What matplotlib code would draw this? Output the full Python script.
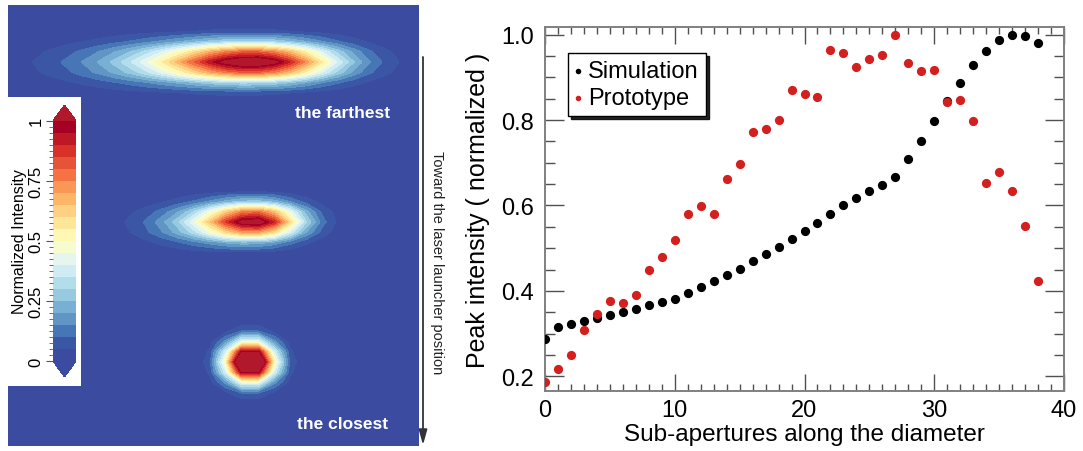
import numpy as np
import matplotlib
matplotlib.use("Agg")
import matplotlib.pyplot as plt
from matplotlib.colors import ListedColormap
from matplotlib.patches import Rectangle
from matplotlib.ticker import MultipleLocator, FixedLocator, FormatStrFormatter

plt.rcParams['font.family'] = ['Liberation Sans', 'DejaVu Sans']

# ---- peak intensity per sub-aperture ----
sub_apertures = list(range(39))
simulation = [0.287, 0.316, 0.323, 0.330, 0.337, 0.344, 0.350, 0.358, 0.366, 0.373,
              0.381, 0.394, 0.409, 0.423, 0.437, 0.452, 0.470, 0.486, 0.503, 0.522,
              0.541, 0.560, 0.580, 0.600, 0.618, 0.635, 0.649, 0.666, 0.708, 0.752,
              0.798, 0.844, 0.888, 0.928, 0.962, 0.987, 1.000, 0.998, 0.981]
prototype = [0.186, 0.216, 0.250, 0.309, 0.346, 0.377, 0.371, 0.391, 0.450, 0.480,
             0.520, 0.581, 0.598, 0.580, 0.662, 0.697, 0.773, 0.780, 0.801, 0.871,
             0.860, 0.855, 0.963, 0.958, 0.924, 0.944, 0.952, 0.999, 0.934, 0.915,
             0.918, 0.842, 0.846, 0.797, 0.652, 0.678, 0.635, 0.551, 0.423]

# ---- spot images: Gaussian components (cx, cy, sigma_left, sigma_right, sigma_y, amp) ----
spot_farthest = [(250, 57, 62, 57, 12.5, 1.0), (150, 58, 70, 70, 14.0, 0.24)]
spot_middle = [(250, 216, 36, 31, 11.5, 0.92), (200, 219, 45, 45, 13.0, 0.26)]
spot_closest = [(242, 357, 16.5, 16.5, 13.5, 1.45)]
spot_labels = ["the farthest", "the closest"]
cbar_ticks = [0, 0.25, 0.5, 0.75, 1]
cbar_ticklabels = ["0", "0.25", "0.5", "0.75", "1"]

W, H = 1083, 452
fig = plt.figure(figsize=(W / 100, H / 100), dpi=100)


def fx(px):
    return px / W


def fy(py):
    return 1 - py / H


# ---- left panel: intensity contours on a coarse sampling grid ----
axL = fig.add_axes([fx(8), fy(447), fx(411), 441 / H])
gx = np.arange(-6, 432, 16.0)
gy = np.arange(-3, 452, 10.0)
X, Y = np.meshgrid(gx, gy)
Z = np.zeros_like(X)
for comp_list in (spot_farthest, spot_middle, spot_closest):
    for cx, cy, sl, sr, sy, amp in comp_list:
        sx = np.where(X < cx, sl, sr)
        Z += amp * np.exp(-0.5 * ((X - cx) / sx) ** 2 - 0.5 * ((Y - cy) / sy) ** 2)

levels = np.linspace(0, 1, 21)
band_colors = plt.cm.RdYlBu_r(np.linspace(0, 1, 20))
band_colors[0] = matplotlib.colors.to_rgba('#3a4ba0')
cmap = ListedColormap(band_colors)
cmap.set_under(band_colors[0])
cmap.set_over('#b2182b')
cf = axL.contourf(X, Y, Z, levels=levels, cmap=cmap, extend='both')
cf.set_edgecolor('face')
cf.set_linewidth(0.6)
axL.set_xlim(0, 411)
axL.set_ylim(441, 0)
axL.set_xticks([])
axL.set_yticks([])
for s in axL.spines.values():
    s.set_visible(False)

axL.text(335, 107, spot_labels[0], color='white', fontsize=12.5, fontweight='bold',
         ha='center', va='center')
axL.text(335, 419, spot_labels[1], color='white', fontsize=12.5, fontweight='bold',
         ha='center', va='center')
axL.add_patch(Rectangle((0, 92), 73, 289, facecolor='white', edgecolor='none', zorder=5))

# colorbar inside the white box (axes height includes the end triangles)
cax = fig.add_axes([fx(53), fy(378), fx(23), 272 / H])
cb = fig.colorbar(cf, cax=cax, extend='both', extendfrac=0.065, ticks=cbar_ticks)
cb.outline.set_visible(False)
cax.yaxis.set_ticks_position('left')
cax.yaxis.set_label_position('left')
cax.set_yticklabels(cbar_ticklabels, fontsize=12, rotation=90, va='center')
cax.yaxis.set_minor_locator(MultipleLocator(0.025))
cax.tick_params(which='major', length=5, width=0.8, color='#555555', pad=2)
cax.tick_params(which='minor', length=3, width=0.6, color='#555555')
cb.set_label('Normalized Intensity', fontsize=11.5, labelpad=1)

# ---- right panel: peak intensity scatter ----
axR = fig.add_axes([fx(545), fy(392), fx(519), 364 / H])
axR.scatter(sub_apertures, simulation, s=44, color='black', linewidths=0,
            label='Simulation', zorder=3)
axR.scatter(sub_apertures, prototype, s=44, color='#d41f1f', linewidths=0,
            label='Prototype', zorder=4)
axR.set_xlim(0, 40)
axR.set_ylim(0.1655, 1.018)
axR.xaxis.set_major_locator(MultipleLocator(10))
axR.xaxis.set_minor_locator(MultipleLocator(1))
axR.yaxis.set_major_locator(FixedLocator([0.2, 0.4, 0.6, 0.8, 1.0]))
axR.yaxis.set_minor_locator(MultipleLocator(0.05))
axR.yaxis.set_major_formatter(FormatStrFormatter('%.1f'))
for s in axR.spines.values():
    s.set_color('#808080')
    s.set_linewidth(1.4)
axR.tick_params(which='both', direction='in', top=True, right=True, color='#505050',
                width=1.0, labelsize=17)
axR.tick_params(axis='x', which='major', length=12, pad=6)
axR.tick_params(axis='x', which='minor', length=5)
axR.tick_params(axis='y', which='major', length=14, pad=8)
axR.tick_params(axis='y', which='minor', length=7)
axR.set_xlabel('Sub-apertures along the diameter', fontsize=17.5, labelpad=1)
axR.set_ylabel('Peak intensity ( normalized )', fontsize=18, labelpad=8)

leg = axR.legend(loc='upper left', bbox_to_anchor=(23 / 519, 1 - 26 / 364),
                 borderaxespad=0, fontsize=17, markerscale=0.6, handlelength=0.25,
                 handletextpad=0.3, labelspacing=0.2, borderpad=0.3, fancybox=False,
                 shadow={'color': 'black', 'alpha': 0.85}, framealpha=1)
leg.get_frame().set_edgecolor('black')
leg.get_frame().set_linewidth(1.0)

# ---- direction arrow between the panels ----
ov = fig.add_axes([0, 0, 1, 1], zorder=10)
ov.set_xlim(0, W)
ov.set_ylim(H, 0)
ov.axis('off')
ov.annotate('', xy=(423, 446), xytext=(423, 58),
            arrowprops=dict(arrowstyle='-|>,head_length=0.9,head_width=0.25',
                            color='#333333', lw=1.3, shrinkA=0, shrinkB=0))
ov.text(437, 263, 'Toward the laser launcher position', rotation=-90, fontsize=10.5,
        ha='center', va='center', color='#222222')

fig.savefig('out.png', dpi=100)
